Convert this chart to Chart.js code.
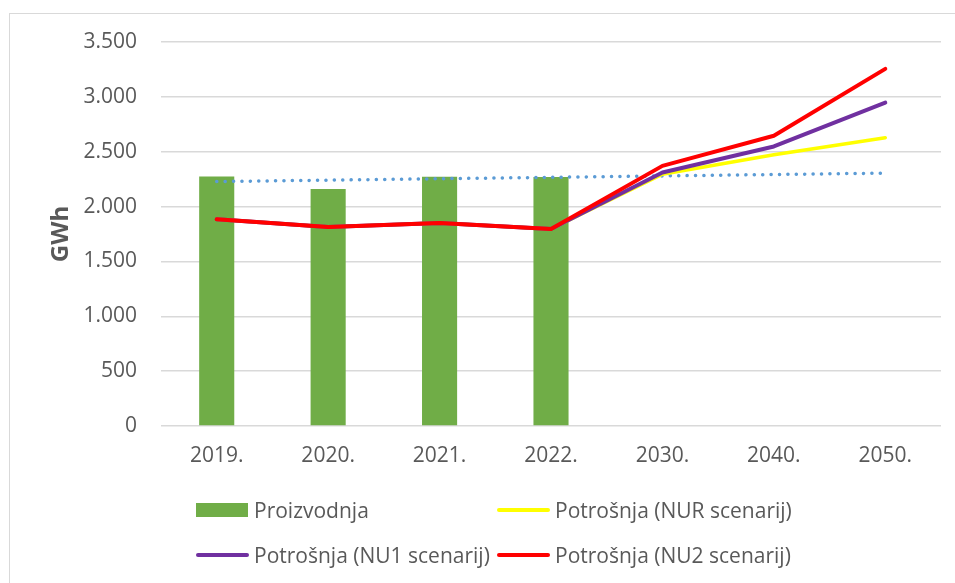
<!DOCTYPE html>
<html>
<head>
<meta charset="utf-8">
<script src="https://cdn.jsdelivr.net/npm/chart.js@4/dist/chart.umd.min.js"></script>
<style>
  html, body { margin: 0; padding: 0; background: #ffffff; }
  #wrap { position: relative; width: 955px; height: 583px; overflow: hidden; background: #fff; }
  #frame { position: absolute; left: 9px; top: 13px; width: 980px; height: 620px; border: 1px solid #d9d9d9; box-sizing: border-box; }
  canvas { position: absolute; left: 0; top: 0; }
  .lg { position: absolute; display: flex; align-items: center; height: 30px; font-family: "Open Sans", sans-serif; font-size: 21px; color: #595959; white-space: nowrap; }
  .sw-bar { width: 52px; height: 14px; margin-right: 6px; }
  .sw-line { width: 53px; height: 4px; border-radius: 2px; margin-right: 5px; }
</style>
</head>
<body>
<div id="wrap">
  <div id="frame"></div>
  <canvas id="c" width="955" height="583"></canvas>
  <div class="lg" style="left:196px; top:495px;"><div class="sw-bar" style="background:#70ad47"></div><span id="l0"></span></div>
  <div class="lg" style="left:497px; top:495px;"><div class="sw-line" style="background:#ffff00"></div><span id="l1"></span></div>
  <div class="lg" style="left:196px; top:540px;"><div class="sw-line" style="background:#7030a0"></div><span id="l2"></span></div>
  <div class="lg" style="left:497px; top:540px;"><div class="sw-line" style="background:#ff0000"></div><span id="l3"></span></div>
</div>
<script>
const categories = ["2019.", "2020.", "2021.", "2022.", "2030.", "2040.", "2050."];
const proizvodnja = [2275, 2160, 2272, 2270, null, null, null];
const potrosnjaNUR = [1884, 1814, 1850, 1796, 2295, 2472, 2627];
const potrosnjaNU1 = [1884, 1814, 1850, 1796, 2310, 2548, 2947];
const potrosnjaNU2 = [1884, 1814, 1850, 1796, 2371, 2645, 3255];
const trendProizvodnja = [2228, null, null, null, null, null, 2305];
const yTicks = [0, 500, 1000, 1500, 2000, 2500, 3000, 3500];
const seriesNames = ["Proizvodnja", "Potrošnja (NUR scenarij)", "Potrošnja (NU1 scenarij)", "Potrošnja (NU2 scenarij)"];
const yTitle = "GWh";

seriesNames.forEach((n, i) => { document.getElementById("l" + i).textContent = n; });

const fmt = v => v.toString().replace(/\B(?=(\d{3})+(?!\d))/g, ".");

const lineCommon = { type: "line", pointRadius: 0, tension: 0, borderCapStyle: "round", borderJoinStyle: "round", fill: false };

new Chart(document.getElementById("c"), {
  data: {
    labels: categories,
    datasets: [
      { type: "bar", label: seriesNames[0], data: proizvodnja, backgroundColor: "#70ad47", barPercentage: 0.315, categoryPercentage: 1, order: 5 },
      { ...lineCommon, label: "trend", data: trendProizvodnja, spanGaps: true, borderColor: "#5b9bd5", borderWidth: 3.5, borderDash: [0.1, 8.3], order: 4 },
      { ...lineCommon, label: seriesNames[1], data: potrosnjaNUR, borderColor: "#ffff00", borderWidth: 3.5, order: 3 },
      { ...lineCommon, label: seriesNames[2], data: potrosnjaNU1, borderColor: "#7030a0", borderWidth: 4, order: 2 },
      { ...lineCommon, label: seriesNames[3], data: potrosnjaNU2, borderColor: "#ff0000", borderWidth: 4, order: 1 }
    ]
  },
  options: {
    responsive: false,
    animation: false,
    devicePixelRatio: 1,
    layout: { padding: { left: 0, right: 14, top: 42, bottom: 0 } },
    plugins: { legend: { display: false }, tooltip: { enabled: false } },
    scales: {
      x: {
        grid: { display: false, drawTicks: false },
        border: { display: false },
        ticks: { color: "#595959", font: { family: "Open Sans", size: 21 }, padding: 17 },
        afterFit(s) { s.height = 157; }
      },
      y: {
        min: 0, max: 3500,
        afterBuildTicks(s) { s.ticks = yTicks.map(v => ({ value: v })); },
        grid: { color: "#d9d9d9", lineWidth: 1.5, drawTicks: false },
        border: { display: false },
        ticks: { color: "#595959", font: { family: "Open Sans", size: 21 }, padding: 24, callback: v => fmt(v) },
        title: { display: true, text: yTitle, color: "#595959", font: { family: "Open Sans", size: 24, weight: "bold" }, padding: { top: 47, bottom: 0 } },
        afterFit(s) { s.width = 161; }
      }
    }
  }
});
</script>
</body>
</html>
